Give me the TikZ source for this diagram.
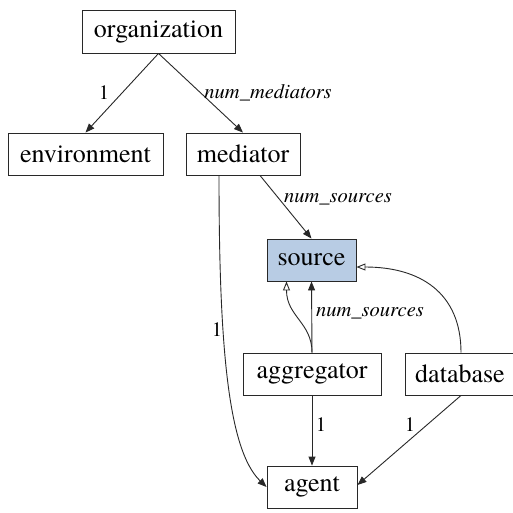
\documentclass[tikz,border=0pt]{standalone}
\usepackage{fontspec}
\setmainfont{texgyretermes}[Extension=.otf,UprightFont=*-regular,ItalicFont=*-italic,BoldFont=*-bold,BoldItalicFont=*-bolditalic]
\usetikzlibrary{arrows.meta,calc}
\definecolor{srcblue}{RGB}{184,204,228}
\definecolor{edgegray}{RGB}{40,40,40}
\tikzset{
  box/.style={draw=edgegray,line width=0.9pt,rectangle,inner sep=0pt,minimum height=42pt,
    font=\fontsize{26}{30}\selectfont},
  arr/.style={draw=edgegray,line width=0.9pt,-{Triangle[length=9pt,width=7pt]}},
  openarr/.style={draw=edgegray,line width=0.9pt,-{Triangle[open,length=9pt,width=7pt]}},
  lbl/.style={font=\fontsize{20.5}{24}\selectfont,inner sep=0pt},
  ilbl/.style={font=\fontsize{20.5}{24}\selectfont\itshape,inner sep=0pt}
}
\begin{document}
\begin{tikzpicture}[x=1pt,y=-1pt]
\useasboundingbox[fill=white] (0,0) rectangle (513,512);
\node[box,minimum width=153pt,minimum height=43pt] (org) at (158.5,31.5) {organization};
\node[box,minimum width=155pt] (env) at (85.5,154) {environment};
\node[box,minimum width=114pt] (med) at (243,154) {mediator};
\node[box,minimum width=89pt,fill=srcblue] (src) at (311.5,260) {source};
\node[box,minimum width=138pt] (agg) at (312,374) {aggregator};
\node[box,minimum width=110pt] (db) at (460,374) {database};
\node[box,minimum width=90pt] (agent) at (312,487) {agent};

\draw[arr] (org.south) -- (env.north);
\node[lbl] (l1) at (104,93) {1};
\draw[arr] (org.south) -- (med.north);
\node[ilbl] (l2) at (268,93) {num\_mediators};
\draw[arr] ($(med.south)+(17,0)$) -- (src.north);
\node[ilbl] (l3) at (338,199) {num\_sources};
\draw[arr] ($(med.south)+(-24,0)$) .. controls ($(med.south)+(-24,170)$) and (228,450) .. (agent.west);
\node[lbl] (l4) at (217,330) {1};
\draw[arr] (agg.north) -- (src.south);
\node[ilbl] (l5) at (370,313) {num\_sources};
\draw[openarr] (agg.north) .. controls ($(agg.north)+(0,-30)$) and ($(src.south)+(-25,35)$) .. ($(src.south)+(-25,0)$);
\draw[openarr] ($(db.north)+(1,0)$) .. controls ($(db.north)+(1,-60)$) and (420,267) .. ($(src.east)+(0,7)$);
\draw[arr] (agg.south) -- (agent.north);
\node[lbl] (l6) at (321,425) {1};
\draw[arr] ($(db.south)+(1,0)$) -- ($(agent.east)+(0,-2)$);
\node[lbl] (l7) at (410,425) {1};
\end{tikzpicture}
\end{document}
